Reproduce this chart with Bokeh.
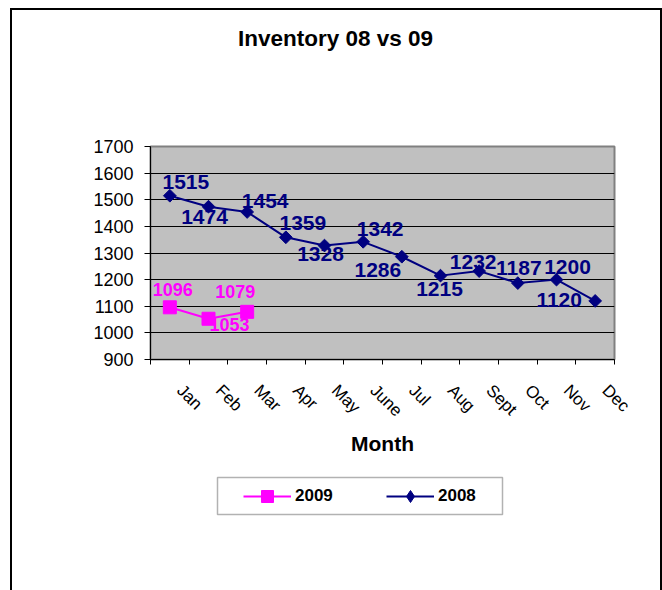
import math
from bokeh.plotting import figure
from bokeh.layouts import column
from bokeh.models import (Range1d, FixedTicker, ColumnDataSource, Legend, LegendItem, Label,
                          BoxAnnotation)
from bokeh.core.properties import value
from bokeh.embed import file_html
from bokeh.resources import INLINE

# ---- data ----
months = ["Jan", "Feb", "Mar", "Apr", "May", "June", "Jul", "Aug", "Sept", "Oct", "Nov", "Dec"]
inv_2008 = [1515, 1474, 1454, 1359, 1328, 1342, 1286, 1215, 1232, 1187, 1200, 1120]
inv_2009 = [1096, 1053, 1079]
y_ticks = [900, 1000, 1100, 1200, 1300, 1400, 1500, 1600, 1700]
series_names = ["2009", "2008"]
title_text = "Inventory 08 vs 09"
x_title = "Month"

# label placement (pixels, relative to each point)
dx_2008 = [16, -4, 18, 17, -4, 17, -24, -1, -6, 1, 11, -36]
dy_2008 = [-14, 10, -11, -14, 8, -13, 13, 13, -9, -15, -13, -1]
dx_2009 = [3, 21, -12]
dy_2009 = [-18, 6, -20]

FONT = "Liberation Sans"
NAVY = "#000080"
PINK = "#FF00FF"
W = 648
BL, BR = 138, 46      # shared left / right borders of the three stacked figures
LABEL_SHIFT = 0.26    # month labels sit a little right of the category centre


def bare(fig):
    fig.xgrid.grid_line_color = None
    fig.ygrid.grid_line_color = None
    fig.background_fill_color = "white"
    fig.border_fill_color = "white"
    fig.outline_line_color = None
    return fig


# ---- title strip ----
pt = bare(figure(width=W, height=100, x_axis_location=None, y_axis_location=None,
                 output_backend="svg", toolbar_location=None,
                 min_border_left=BL, min_border_right=BR, min_border_top=0, min_border_bottom=0,
                 x_range=Range1d(0, 1), y_range=Range1d(0, 1)))
pt.add_layout(Label(x=185, y=72, x_units="screen", y_units="screen", text=title_text,
                    text_font=FONT, text_font_size="22.5px", text_font_style="bold",
                    text_color="black", text_align="center", text_baseline="alphabetic"))

# ---- main chart ----
p = figure(width=W, height=355, x_range=Range1d(0, len(months)),
           y_range=Range1d(y_ticks[0], y_ticks[-1]),
           output_backend="svg", toolbar_location=None,
           min_border_left=BL, min_border_right=BR, min_border_top=36, min_border_bottom=106)
p.background_fill_color = "#C0C0C0"
p.border_fill_color = "white"
p.outline_line_color = "#808080"
p.outline_line_width = 2

p.yaxis.ticker = FixedTicker(ticks=y_ticks)
p.yaxis.major_label_text_font = FONT
p.yaxis.major_label_text_font_size = "18px"
p.yaxis.major_label_text_color = "black"
p.yaxis.axis_line_color = "black"
p.yaxis.major_tick_line_color = "black"
p.yaxis.major_tick_in = 0
p.yaxis.major_tick_out = 6
p.yaxis.minor_tick_line_color = None
p.yaxis.major_label_standoff = 11

centers = [i + 0.5 for i in range(len(months))]
label_pos = [i + 0.5 + LABEL_SHIFT for i in range(len(months))]
p.xaxis.ticker = FixedTicker(ticks=label_pos, minor_ticks=list(range(len(months) + 1)))
p.xaxis.major_label_overrides = {c: m for c, m in zip(label_pos, months)}
p.xaxis.major_label_orientation = -math.pi / 4
p.xaxis.major_label_text_font = FONT
p.xaxis.major_label_text_font_size = "17px"
p.xaxis.major_label_text_color = "black"
p.xaxis.major_tick_line_color = None
p.xaxis.minor_tick_line_color = "black"
p.xaxis.minor_tick_in = 0
p.xaxis.minor_tick_out = 5
p.xaxis.axis_line_color = "black"
p.xaxis.major_label_standoff = 22
p.xaxis.axis_label = x_title
p.xaxis.axis_label_text_font = FONT
p.xaxis.axis_label_text_font_size = "21px"
p.xaxis.axis_label_text_font_style = "bold"
p.xaxis.axis_label_text_color = "black"
p.xaxis.axis_label_standoff = 2

p.ygrid.ticker = FixedTicker(ticks=y_ticks)
p.ygrid.grid_line_color = "black"
p.ygrid.grid_line_width = 1
p.xgrid.grid_line_color = None

src08 = ColumnDataSource(dict(x=centers, y=inv_2008, t=[str(v) for v in inv_2008],
                              dx=dx_2008, dy=dy_2008))
src09 = ColumnDataSource(dict(x=centers[:len(inv_2009)], y=inv_2009,
                              t=[str(v) for v in inv_2009], dx=dx_2009, dy=dy_2009))


def draw_series(fig, visible=True, marker08="square", angle08=math.pi / 4, size08=9):
    l09 = fig.line("x", "y", source=src09, line_color=PINK, line_width=2, visible=visible)
    m09 = fig.scatter("x", "y", source=src09, marker="square", size=13,
                      fill_color=PINK, line_color=PINK, visible=visible)
    l08 = fig.line("x", "y", source=src08, line_color=NAVY, line_width=2, visible=visible)
    m08 = fig.scatter("x", "y", source=src08, marker=marker08, angle=angle08, size=size08,
                      fill_color=NAVY, line_color=NAVY, visible=visible)
    return (l09, m09), (l08, m08)


draw_series(p)
p.text("x", "y", text="t", source=src08, x_offset="dx", y_offset="dy",
       text_font=value(FONT), text_font_size="21px", text_font_style="bold",
       text_color=NAVY, text_align="center", text_baseline="alphabetic")
p.text("x", "y", text="t", source=src09, x_offset="dx", y_offset="dy",
       text_font=value(FONT), text_font_size="18px", text_font_style="bold",
       text_color=PINK, text_align="center", text_baseline="alphabetic")

# ---- legend strip ----
pl = bare(figure(width=W, height=125, x_axis_location=None, y_axis_location=None,
                 output_backend="svg", toolbar_location=None,
                 x_range=Range1d(0, len(months)), y_range=Range1d(y_ticks[0], y_ticks[-1]),
                 min_border_left=BL, min_border_right=BR, min_border_top=10, min_border_bottom=74))
r09, r08 = draw_series(pl, visible=False, marker08="diamond", angle08=0, size08=12)
legend = Legend(items=[LegendItem(label=series_names[0], renderers=list(r09)),
                       LegendItem(label=series_names[1], renderers=list(r08))],
                orientation="horizontal", location=(93, 5),
                padding=0, spacing=51, glyph_width=48, glyph_height=30,
                label_width=40, label_height=21, label_standoff=4, margin=0,
                label_text_font=FONT, label_text_font_size="17px",
                label_text_font_style="bold", label_text_color="black",
                border_line_color=None, background_fill_alpha=0)
pl.add_layout(legend, "center")
pl.add_layout(BoxAnnotation(left=205, right=490, top=12, bottom=49,
                            left_units="canvas", right_units="canvas",
                            top_units="canvas", bottom_units="canvas",
                            fill_alpha=0, line_color="black", line_width=1.5))

layout = column(pt, p, pl, spacing=0,
                styles={"border-left": "2px solid black", "border-right": "2px solid black",
                        "border-top": "2px solid black", "margin-left": "10px",
                        "margin-top": "8px"})

open("out.html", "w").write(file_html(layout, INLINE))
